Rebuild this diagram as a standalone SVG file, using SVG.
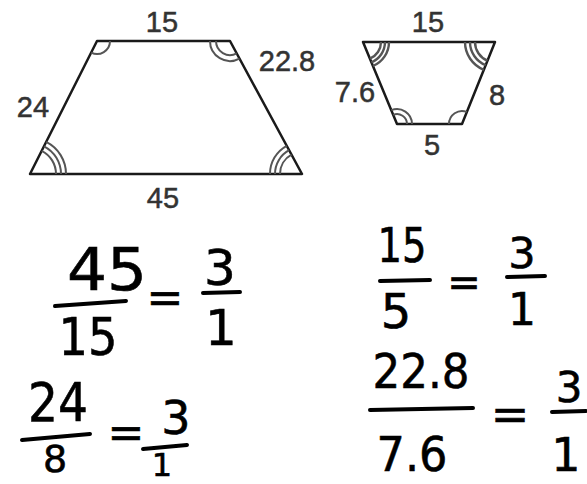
<svg xmlns="http://www.w3.org/2000/svg" width="587" height="484" viewBox="0 0 587 484">
<style>
.lbl{font-family:"Liberation Sans",Arial,sans-serif;font-size:29px;fill:#333;stroke:#333;stroke-width:0.5;text-anchor:middle}
.edge{stroke:#1a1a1a;stroke-width:2.5;fill:none;stroke-linecap:round;stroke-linejoin:round}
.arc{stroke:#555;stroke-width:2;fill:none}
.hw{font-family:"DejaVu Sans",sans-serif;fill:#000;stroke:#000;stroke-width:0.6;text-anchor:middle}
.bar{stroke:#000;stroke-width:4;stroke-linecap:round}
</style>
<rect width="587" height="484" fill="#fff"/>

<g id="large-trapezoid">
  <polygon class="edge" points="97,41 230,41 302,174 30,174"/>
  <path class="arc" d="M110,41 A13,13 0 0 1 91.2,52.6"/>
  <path class="arc" d="M216,41 A14,14 0 0 0 236.7,53.3"/>
  <path class="arc" d="M210,41 A20,20 0 0 0 239.5,58.6"/>
  <path class="arc" d="M56,174 A26,26 0 0 0 41.7,150.8"/>
  <path class="arc" d="M61,174 A31,31 0 0 0 44,146.3"/>
  <path class="arc" d="M66,174 A36,36 0 0 0 46.2,141.9"/>
  <path class="arc" d="M280,174 A22,22 0 0 1 291.5,154.6"/>
  <path class="arc" d="M275,174 A27,27 0 0 1 289.1,150.2"/>
  <path class="arc" d="M270,174 A32,32 0 0 1 286.7,145.8"/>
  <text class="lbl" x="162" y="32">15</text>
  <text class="lbl" x="287" y="71">22.8</text>
  <text class="lbl" x="33" y="117">24</text>
  <text class="lbl" x="163" y="208">45</text>
</g>

<g id="small-trapezoid">
  <polygon class="edge" points="363,42 495,42 462,124 397,124"/>
  <path class="arc" d="M381,42 A18,18 0 0 1 369.9,58.6" style="stroke-width:2.4"/>
  <path class="arc" d="M385,42 A22,22 0 0 1 371.4,62.3" style="stroke-width:2.4"/>
  <path class="arc" d="M389,42 A26,26 0 0 1 373,66" style="stroke-width:2.4"/>
  <path class="arc" d="M475,42 A20,20 0 0 0 487.5,60.6" style="stroke-width:2.4"/>
  <path class="arc" d="M470,42 A25,25 0 0 0 485.7,65.2" style="stroke-width:2.4"/>
  <path class="arc" d="M465,42 A30,30 0 0 0 483.8,69.8" style="stroke-width:2.4"/>
  <path class="arc" d="M407,124 A10,10 0 0 0 393.2,114.8"/>
  <path class="arc" d="M412,124 A15,15 0 0 0 391.3,110.2"/>
  <path class="arc" d="M449,124 A13,13 0 0 1 466.8,111.9"/>
  <text class="lbl" x="428" y="32">15</text>
  <text class="lbl" x="355" y="102">7.6</text>
  <text class="lbl" x="497" y="105">8</text>
  <text class="lbl" x="432" y="155">5</text>
</g>

<g id="ratio-45-15">
  <text class="hw" x="107" y="290" font-size="58" textLength="80" lengthAdjust="spacingAndGlyphs">45</text>
  <line class="bar" x1="55" y1="306" x2="126" y2="301"/>
  <text class="hw" x="88" y="355" font-size="52" textLength="59" lengthAdjust="spacingAndGlyphs">15</text>
  <text class="hw" x="165" y="313" font-size="44">=</text>
  <text class="hw" x="220" y="285" font-size="50">3</text>
  <line class="bar" x1="203" y1="293" x2="240" y2="292"/>
  <text class="hw" x="221" y="345" font-size="50">1</text>
</g>

<g id="ratio-24-8">
  <text class="hw" x="58" y="421" font-size="54" textLength="60" lengthAdjust="spacingAndGlyphs">24</text>
  <line class="bar" x1="22" y1="440" x2="90" y2="434"/>
  <text class="hw" x="55" y="472" font-size="38">8</text>
  <text class="hw" x="126" y="448" font-size="44">=</text>
  <text class="hw" x="176" y="434" font-size="46">3</text>
  <line class="bar" x1="143" y1="449" x2="187" y2="445"/>
  <text class="hw" x="162" y="476" font-size="32">1</text>
</g>

<g id="ratio-15-5">
  <text class="hw" x="402" y="262" font-size="48" textLength="49" lengthAdjust="spacingAndGlyphs">15</text>
  <line class="bar" x1="380" y1="281" x2="430" y2="280"/>
  <text class="hw" x="396" y="328" font-size="48">5</text>
  <text class="hw" x="464" y="296" font-size="40">=</text>
  <text class="hw" x="522" y="268" font-size="43">3</text>
  <line class="bar" x1="507" y1="277" x2="545" y2="276"/>
  <text class="hw" x="522" y="325" font-size="44">1</text>
</g>

<g id="ratio-22.8-7.6">
  <text class="hw" x="421" y="388" font-size="48" textLength="97" lengthAdjust="spacingAndGlyphs">22.8</text>
  <line class="bar" x1="370" y1="410" x2="473" y2="408"/>
  <text class="hw" x="412" y="471" font-size="48" textLength="71" lengthAdjust="spacingAndGlyphs">7.6</text>
  <text class="hw" x="510" y="430" font-size="46">=</text>
  <text class="hw" x="569" y="402" font-size="42">3</text>
  <line class="bar" x1="552" y1="412" x2="586" y2="411"/>
  <text class="hw" x="566" y="471" font-size="46">1</text>
</g>
</svg>
